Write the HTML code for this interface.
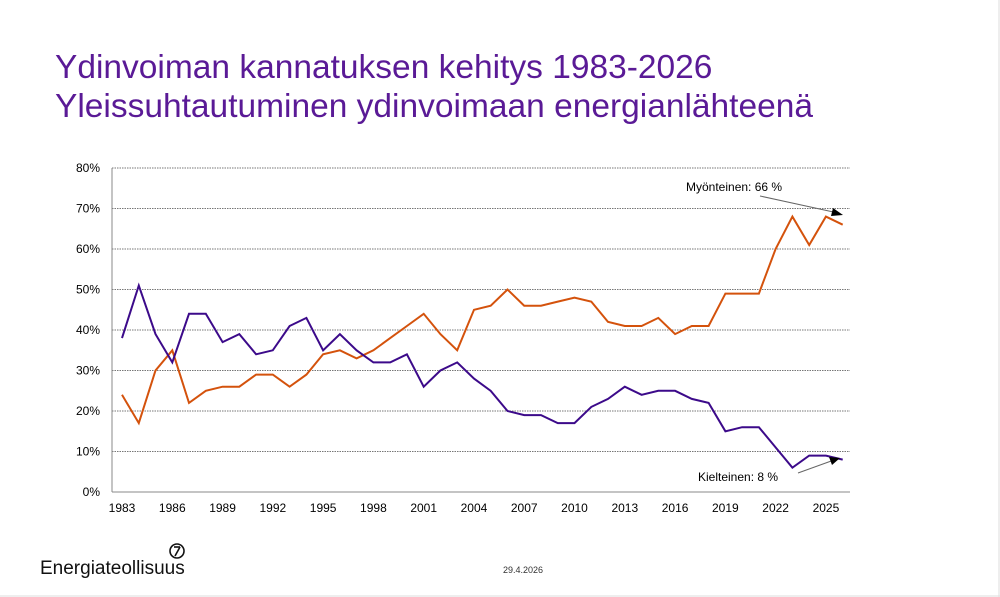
<!DOCTYPE html>
<html><head><meta charset="utf-8"><style>
body{margin:0;background:#fff;}
svg{display:block;font-family:"Liberation Sans",sans-serif;}
</style></head><body>
<svg id="s" width="1000" height="597" viewBox="0 0 1000 597">
<rect width="1000" height="597" fill="#fff"/>
<text x="55" y="78" font-size="33.5" fill="#5a1a96">Ydinvoiman kannatuksen kehitys 1983-2026</text>
<text x="55" y="117" font-size="33.5" fill="#5a1a96">Yleissuhtautuminen ydinvoimaan energianlähteenä</text>
<g id="grid"></g>
<line x1="112" y1="168" x2="112" y2="492" stroke="#888" stroke-width="1"/>
<line x1="112" y1="492" x2="850" y2="492" stroke="#888" stroke-width="1"/>
<g id="lab" font-size="12" fill="#000"></g>
<polyline id="o" fill="none" stroke="#d4520c" stroke-width="2"/>
<polyline id="p" fill="none" stroke="#3c0a8a" stroke-width="2"/>
<text x="686" y="191" font-size="12">Myönteinen: 66 %</text>
<line x1="760" y1="196" x2="838" y2="213" stroke="#666"/>
<polygon points="843,215 833,208 831,216" fill="#000"/>
<text x="698" y="481" font-size="12">Kielteinen: 8 %</text>
<line x1="798" y1="473" x2="834" y2="460" stroke="#666"/>
<polygon points="840,458 829,457 832,465" fill="#000"/>
<text x="40" y="574" font-size="19" fill="#111">Energiateollisuus</text>
<circle cx="177" cy="551" r="7" fill="none" stroke="#111" stroke-width="1.6"/>
<line x1="174" y1="547" x2="180" y2="547" stroke="#111" stroke-width="1.6"/>
<line x1="180" y1="547" x2="175" y2="556" stroke="#111" stroke-width="1.6"/>
<text x="503" y="573" font-size="9" fill="#333">29.4.2026</text>
<line x1="999" y1="0" x2="999" y2="597" stroke="#ddd"/>
<line x1="0" y1="596" x2="1000" y2="596" stroke="#ddd"/>
</svg>
<script>
var P=[38,51,39,32,44,44,37,39,34,35,41,43,35,39,35,32,32,34,26,30,32,28,25,20,19,19,17,17,21,23,26,24,25,25,23,22,15,16,16,11,6,9,9,8];
var O=[24,17,30,35,22,25,26,26,29,29,26,29,34,35,33,35,38,41,44,39,35,45,46,50,46,46,47,48,47,42,41,41,43,39,41,41,49,49,49,60,68,61,68,66];
function X(i){return 122+i*16.76;}function Y(v){return 492-v*4.05;}
function pts(a){return a.map(function(v,i){return X(i).toFixed(1)+","+Y(v).toFixed(1)}).join(" ");}
document.getElementById("p").setAttribute("points",pts(P));
document.getElementById("o").setAttribute("points",pts(O));
var ns="http://www.w3.org/2000/svg",g=document.getElementById("grid"),l=document.getElementById("lab");
for(var k=0;k<=8;k++){var y=Y(k*10);
if(k>0){var ln=document.createElementNS(ns,"line");ln.setAttribute("x1",112);ln.setAttribute("x2",850);ln.setAttribute("y1",y);ln.setAttribute("y2",y);ln.setAttribute("stroke","#777");ln.setAttribute("stroke-dasharray","1.5,1");g.appendChild(ln);}
var t=document.createElementNS(ns,"text");t.setAttribute("x",100);t.setAttribute("y",y+4);t.setAttribute("text-anchor","end");t.textContent=(k*10)+"%";l.appendChild(t);}
for(var yr=1983;yr<=2025;yr+=3){var t=document.createElementNS(ns,"text");t.setAttribute("x",X(yr-1983));t.setAttribute("y",512);t.setAttribute("text-anchor","middle");t.textContent=yr;l.appendChild(t);}
</script>
</body></html>
